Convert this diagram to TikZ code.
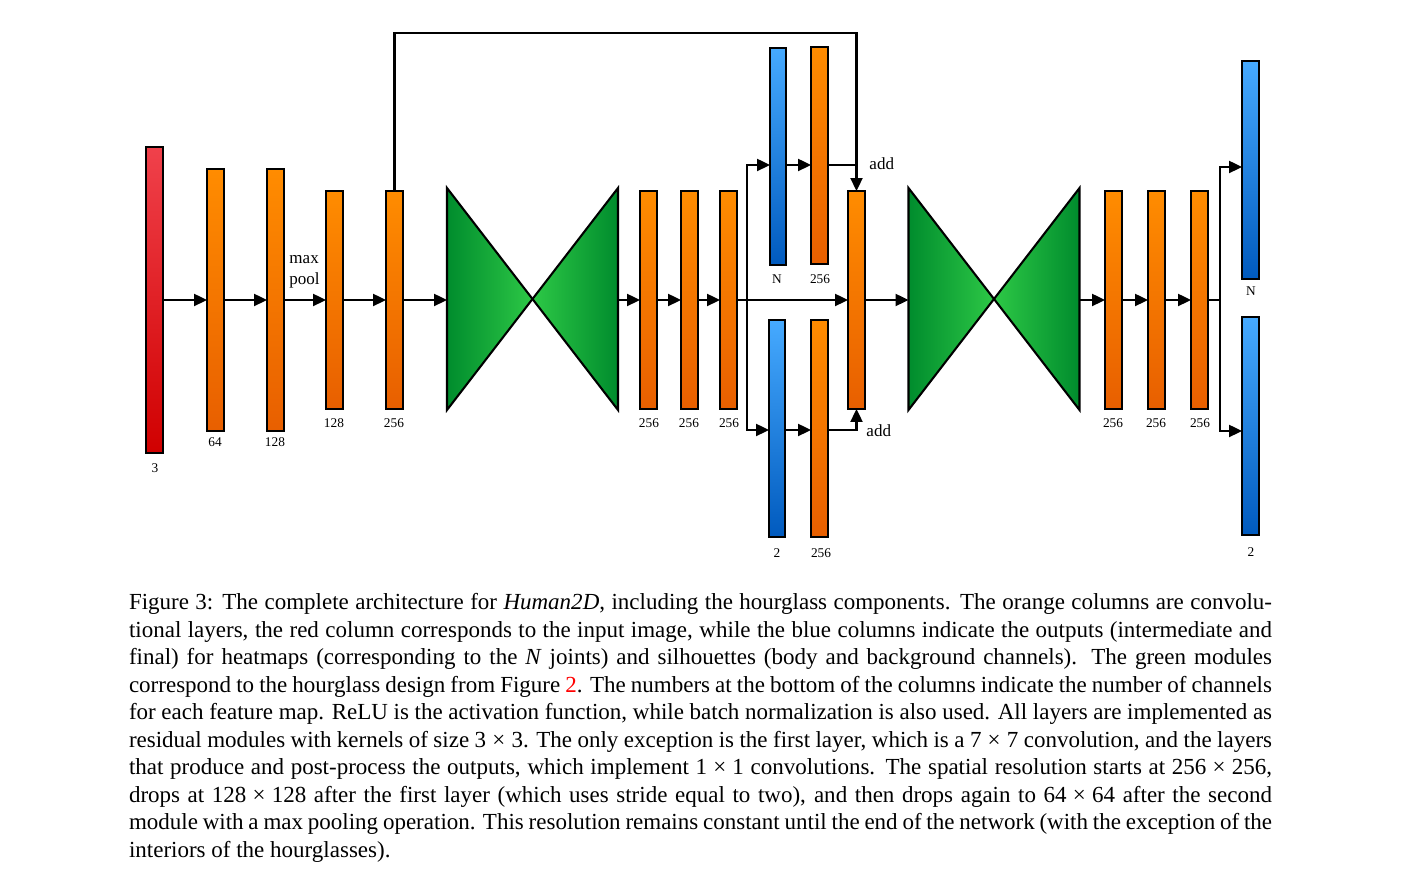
\documentclass[tikz,border=0pt]{standalone}
\usepackage{fontspec}
\setmainfont{Liberation Serif}
\usetikzlibrary{arrows.meta,calc}
\newlength\pu \setlength\pu{0.4347pt}
\newlength\capw \setlength\capw{496.86pt}
\definecolor{orT}{RGB}{255,140,0}
\definecolor{orB}{RGB}{232,95,0}
\definecolor{rdT}{RGB}{240,65,75}
\definecolor{rdB}{RGB}{208,0,0}
\definecolor{blT}{RGB}{70,170,255}
\definecolor{blB}{RGB}{0,90,190}
\definecolor{gnD}{RGB}{0,140,45}
\definecolor{gnM}{RGB}{0,172,58}
\definecolor{gnL}{RGB}{45,200,70}
\newcommand\mkcol[6]{\node[#2, minimum width={(#5-#3)*\pu}, minimum height={(#6-#4)*\pu}] (#1) at ({(#3+#5)/2},{(#4+#6)/2}) {};}
\newcommand\tms{\hspace{0.27em}\texttimes\hspace{0.27em}}
\begin{document}
\begin{tikzpicture}[x=\pu,y=-\pu,
  colbase/.style={draw=black, line width=0.9pt, inner sep=0pt, outer sep=0pt, shading=axis},
  ocol/.style={colbase, top color=orT, bottom color=orB},
  rcol/.style={colbase, top color=rdT, bottom color=rdB},
  bcol/.style={colbase, top color=blT, bottom color=blB},
  hgbox/.style={inner sep=0pt, outer sep=0pt, minimum width={171*\pu}, minimum height={222*\pu}},
  hgedge/.style={draw=black, line width=0.9pt},
  num/.style={inner sep=0pt, font=\fontsize{5.8}{7}\selectfont},
  lbl/.style={inner sep=0pt, font=\fontsize{7.4}{9.1}\selectfont},
  conn/.style={draw=black, line width=0.9pt},
  arr/.style={conn, -{Triangle[length=5.6pt,width=5.2pt]}}
]
\useasboundingbox (0,0) rectangle (1401,875);
% columns
\mkcol{r}{rcol}{146}{147}{163}{453}
\mkcol{o1}{ocol}{207}{169}{224}{431}
\mkcol{o2}{ocol}{267}{169}{284}{431}
\mkcol{o3}{ocol}{326}{191}{343}{409}
\mkcol{o4}{ocol}{386}{191}{403}{409}
\mkcol{o5}{ocol}{640}{191}{657}{409}
\mkcol{o6}{ocol}{681}{191}{698}{409}
\mkcol{o7}{ocol}{720}{191}{737}{409}
\mkcol{bt}{bcol}{770}{48}{786}{265}
\mkcol{ot}{ocol}{811}{47}{828}{264}
\mkcol{bb}{bcol}{769}{320}{785}{537}
\mkcol{ob}{ocol}{811}{320}{828}{537}
\mkcol{m}{ocol}{848}{191}{865}{409}
\mkcol{o8}{ocol}{1105}{191}{1122}{409}
\mkcol{o9}{ocol}{1148}{191}{1165}{409}
\mkcol{o10}{ocol}{1191}{191}{1208}{409}
\mkcol{bN}{bcol}{1242}{61}{1259}{279}
\mkcol{b2}{bcol}{1242}{317}{1259}{535}
% hourglasses
\node[hgbox] (hg1) at (532.5,299) {};
\node[hgbox] (hg2) at (994,299) {};
\foreach \h in {hg1,hg2}{
  \path[hgedge, left color=gnD, middle color=gnM, right color=gnL]
    (\h.north west) -- (\h.south west) -- (\h.center) -- cycle;
  \path[hgedge, left color=gnL, middle color=gnM, right color=gnD]
    (\h.north east) -- (\h.south east) -- (\h.center) -- cycle;
}
% labels
\node[num] (lr) at (155,468) {3};
\node[num] (l1) at (215,442) {64};
\node[num] (l2) at (275,442) {128};
\node[num] (l3) at (334,423) {128};
\node[num] (l4) at (394,423) {256};
\node[num] (l5) at (649,423) {256};
\node[num] (l6) at (689,423) {256};
\node[num] (l7) at (729,423) {256};
\node[num] (lbt) at (777,279) {N};
\node[num] (lot) at (820,279) {256};
\node[num] (lbb) at (777,553) {2};
\node[num] (lob) at (821,553) {256};
\node[num] (l8) at (1113,423) {256};
\node[num] (l9) at (1156,423) {256};
\node[num] (l10) at (1200,423) {256};
\node[num] (lbN) at (1251,291) {N};
\node[num] (lb2) at (1251,552) {2};
\node[lbl, anchor=west, align=left] (mp) at (289,272) {max\\pool};
\node[lbl, anchor=west] (addT) at (869,164) {add};
\node[lbl, anchor=west] (addB) at (866,431) {add};
% helper coordinates
\coordinate (yU) at (0,165);
\coordinate (yD) at (0,430);
\coordinate (yS) at (0,33);
\coordinate (yR1) at (0,167);
\coordinate (yR2) at (0,431);
\coordinate (br1) at (747,300);
\coordinate (br2) at (1220,300);
% main chain
\draw[arr] (r.east) -- (r.east -| o1.west);
\draw[arr] (o1.east) -- (o1.east -| o2.west);
\draw[arr] (o2.east) -- (o2.east -| o3.west);
\draw[arr] (o3.east) -- (o3.east -| o4.west);
\draw[arr] (o4.east) -- (o4.east -| hg1.west);
\draw[arr] (hg1.east |- o5.west) -- (o5.west);
\draw[arr] (o5.east) -- (o5.east -| o6.west);
\draw[arr] (o6.east) -- (o6.east -| o7.west);
\draw[arr] (o7.east) -- (o7.east -| m.west);
\draw[arr] (m.east) -- (m.east -| hg2.west);
\draw[arr] (hg2.east |- o8.west) -- (o8.west);
\draw[arr] (o8.east) -- (o8.east -| o9.west);
\draw[arr] (o9.east) -- (o9.east -| o10.west);
% skip connection
\draw[arr] (o4.north) -- (o4.north |- yS) -| (m.north);
% intermediate branches
\draw[arr] (br1) |- (bt.west |- yU);
\draw[arr] (bt.east |- yU) -- (ot.west |- yU);
\draw[conn] (ot.east |- yU) -- (m.north |- yU);
\draw[arr] (br1) |- (bb.west |- yD);
\draw[arr] (bb.east |- yD) -- (ob.west |- yD);
\draw[arr] (ob.east |- yD) -| (m.south);
% final outputs
\draw[conn] (o10.east) -- (br2);
\draw[arr] (br2) |- (bN.west |- yR1);
\draw[arr] (br2) |- (b2.west |- yR2);
% caption
\node[anchor=base west, inner sep=0pt, outer sep=0pt] (cap) at (129,610) {\parbox[t]{\capw}{\fontsize{10}{11.95}\selectfont
\hbox to\capw{Figure 3: The complete architecture for \textit{Human2D}, including the hourglass components.  The orange columns are convolu-}
\hbox to\capw{tional layers, the red column corresponds to the input image, while the blue columns indicate the outputs (intermediate and}
\hbox to\capw{final) for heatmaps (corresponding to the \textit{N} joints) and silhouettes (body and background channels).  The green modules}
\hbox to\capw{correspond to the hourglass design from Figure \textcolor{red}{2}. The numbers at the bottom of the columns indicate the number of channels}
\hbox to\capw{for each feature map. ReLU is the activation function, while batch normalization is also used. All layers are implemented as}
\hbox to\capw{residual modules with kernels of size 3\tms3. The only exception is the first layer, which is a 7\tms7 convolution, and the layers}
\hbox to\capw{that produce and post-process the outputs, which implement 1\tms1 convolutions.  The spatial resolution starts at 256\tms256,}
\hbox to\capw{drops at 128\tms128 after the first layer (which uses stride equal to two), and then drops again to 64\tms64 after the second}
\hbox to\capw{module with a max pooling operation. This resolution remains constant until the end of the network (with the exception of the}
\hbox{interiors of the hourglasses).}}};
\end{tikzpicture}
\end{document}
